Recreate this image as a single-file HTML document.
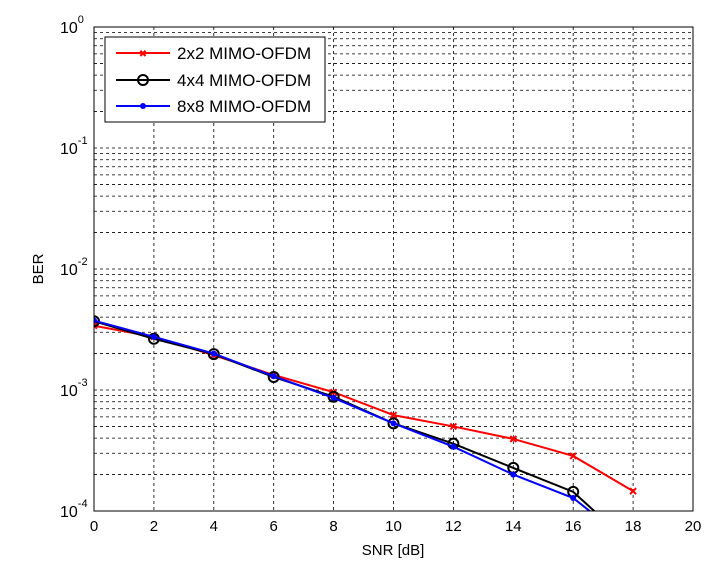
<!DOCTYPE html>
<html><head><style>
body{margin:0;background:#fff;}
svg text{font-family:"Liberation Sans",Arial,sans-serif;}
</style></head><body>
<svg id="chart" width="710" height="571" xmlns="http://www.w3.org/2000/svg">
<defs><clipPath id="clip"><rect x="94" y="27" width="599" height="484"/></clipPath></defs>
<rect width="710" height="571" fill="#fff"/>
<g id="grid"></g>
<g id="series" clip-path="url(#clip)"></g>
<rect x="94" y="27" width="599" height="484" fill="none" stroke="#000" stroke-width="1"/>
<g id="ticks"></g>
<text x="393" y="555" font-size="15" text-anchor="middle">SNR [dB]</text>
<text transform="translate(43,269) rotate(-90)" font-size="15" text-anchor="middle">BER</text>
<g>
<rect x="105" y="37" width="220" height="85" fill="#fff" stroke="#000"/>
<g>
<line x1="116" y1="53" x2="170" y2="53" stroke="red" stroke-width="2"/>
<text x="143" y="57" font-size="10" fill="red" text-anchor="middle">✖</text>
<text x="177" y="59" font-size="17">2x2 MIMO-OFDM</text></g>
<g>
<line x1="116" y1="80" x2="170" y2="80" stroke="#000" stroke-width="2"/>
<circle cx="143" cy="80" r="5" fill="none" stroke="#000" stroke-width="2"/>
<text x="177" y="86" font-size="17">4x4 MIMO-OFDM</text></g>
<g>
<line x1="116" y1="106" x2="170" y2="106" stroke="blue" stroke-width="2"/>
<circle cx="143" cy="106" r="3" fill="blue"/>
<text x="177" y="112" font-size="17">8x8 MIMO-OFDM</text></g>
</g>
</svg>
<script>
const snr = [0,2,4,6,8,10,12,14,16,18];
const ber2x2 = [3.4e-3,2.75e-3,1.94e-3,1.33e-3,9.6e-4,6.2e-4,5.0e-4,3.94e-4,2.85e-4,1.46e-4];
const ber4x4 = [3.7e-3,2.65e-3,1.98e-3,1.28e-3,8.8e-4,5.3e-4,3.6e-4,2.27e-4,1.44e-4,5.1e-5];
const ber8x8 = [3.75e-3,2.75e-3,2.0e-3,1.3e-3,8.6e-4,5.3e-4,3.4e-4,2.0e-4,1.28e-4,5.2e-5];
const xTicks = [0,2,4,6,8,10,12,14,16,18,20];
const yDecades = [0,-1,-2,-3,-4];
const L=94,R=693,T=27,B=511;
const sx=v=>L+(v-0)/(20-0)*(R-L);
const sy=v=>T+(0-Math.log10(v))/4*(B-T);
const NS='http://www.w3.org/2000/svg';
function mk(tag,attrs,parent){const e=document.createElementNS(NS,tag);for(const k in attrs)e.setAttribute(k,attrs[k]);parent.appendChild(e);return e;}
const grid=document.getElementById('grid'),ticks=document.getElementById('ticks'),series=document.getElementById('series');
xTicks.forEach(t=>{const x=sx(t);
 if(t>0&&t<20){const g=mk('line',{x1:x,x2:x,y1:T,y2:B,stroke:'#000','stroke-dasharray':'3,3','stroke-width':0.8},grid);
 
 }
 const tx=mk('text',{x:x,y:B+20,'font-size':15,'text-anchor':'middle'},ticks);tx.textContent=t;
 
 
});
for(let d=-4;d<0;d++){for(let m=2;m<=9;m++){const y=sy(m*Math.pow(10,d));
 const g=mk('line',{x1:L,x2:R,y1:y,y2:y,stroke:'#000','stroke-dasharray':'3,3','stroke-width':0.8},grid);
 
 }}
yDecades.forEach(d=>{const y=sy(Math.pow(10,d));
 if(d<0&&d>-4){const g=mk('line',{x1:L,x2:R,y1:y,y2:y,stroke:'#000','stroke-dasharray':'3,3','stroke-width':0.8},grid);
 
 }
 const tx=mk('text',{x:60,y:y+6,'font-size':16},ticks);
 
 
 tx.textContent='10';
 const sup=mk('tspan',{dy:-10,'font-size':11},tx);sup.textContent=String(d);
});
function draw(vals,color,marker,name){
 const pts=snr.map((s,i)=>sx(s)+','+sy(vals[i])).join(' ');
 const pl=mk('polyline',{points:pts,fill:'none',stroke:color,'stroke-width':2},series);
 
 
 snr.forEach((s,i)=>{const x=sx(s),y=sy(vals[i]);let m;
  if(marker==='x'){m=mk('path',{d:`M${x-3},${y-3}L${x+3},${y+3}M${x-3},${y+3}L${x+3},${y-3}`,stroke:color,'stroke-width':2},series);}
  else if(marker==='o'){m=mk('circle',{cx:x,cy:y,r:5,fill:'none',stroke:color,'stroke-width':2},series);}
  else{m=mk('circle',{cx:x,cy:y,r:3,fill:color},series);}
  
  
 });
}
draw(ber2x2,'red','x','series-2x2');
draw(ber4x4,'#000','o','series-4x4');
draw(ber8x8,'blue','.','series-8x8');
</script>
</body></html>
